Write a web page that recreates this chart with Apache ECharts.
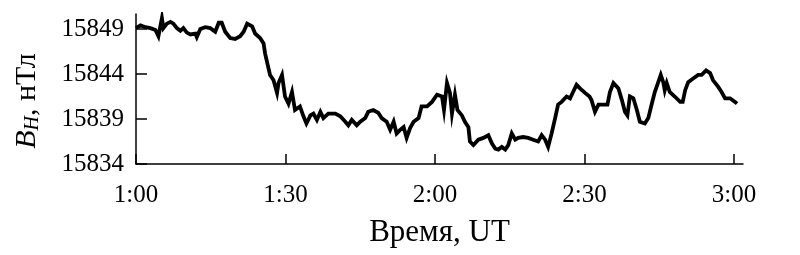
<!DOCTYPE html>
<html>
<head>
<meta charset="utf-8">
<script src="https://cdn.jsdelivr.net/npm/echarts@6/dist/echarts.min.js"></script>
<style>
html,body{margin:0;padding:0;background:#fff;}
#chart{width:800px;height:255px;}
</style>
</head>
<body>
<div id="chart"></div>
<script>
// Time in minutes after 1:00 UT
const times = [
0, 0.9, 1.9, 2.9, 3.9, 4.5, 5.2, 5.5, 6.2, 6.9, 7.5, 8.2, 8.9, 9.5, 10.2, 10.9, 11.9, 12.2, 12.9, 13.9,
14.9, 15.9, 16.6, 17.2, 17.9, 18.9, 19.9, 20.9, 21.6, 22.3, 23.3, 23.9, 24.9, 25.6, 25.9, 26.6, 26.9, 27.6, 28.3, 28.6,
29.3, 29.9, 30.6, 31.3, 31.9, 32.9, 33.6, 34.2, 35.0, 35.6, 36.3, 37.0, 37.6, 38.6, 40.0, 41.0, 42.0, 42.6, 43.3, 44.3,
45.0, 46.0, 46.6, 47.6, 48.6, 49.3, 50.3, 51.0, 51.7, 52.3, 53.0, 53.7, 54.3, 55.0, 55.7, 56.7, 57.3, 58.4, 59.4, 60.4,
60.7, 61.4, 61.8, 62.4, 63.0, 63.4, 64.0, 64.5, 65.4, 66.0, 66.7, 67.0, 67.7, 68.7, 69.7, 70.7, 71.4, 72.1, 72.7, 73.4,
74.1, 74.7, 75.4, 76.1, 76.7, 77.7, 78.7, 79.7, 80.7, 81.4, 82.1, 82.7, 83.4, 84.1, 84.7, 85.4, 86.4, 87.1, 87.7, 88.4,
89.1, 90.1, 91.0, 91.4, 92.1, 92.8, 93.8, 94.6, 95.1, 95.8, 96.8, 97.5, 98.1, 98.6, 99.1, 99.8, 100.5, 101.1, 102.1, 102.8,
103.5, 104.1, 104.8, 105.3, 105.8, 106.1, 106.5, 107.1, 108.1, 109.2, 109.7, 110.2, 110.8, 111.8, 112.8, 113.5, 114.4, 115.2, 115.8, 116.8,
117.5, 118.2, 119.2, 120.2, 120.6
];
// B_H values, nT
const bH = [
15849.1, 15849.4, 15849.2, 15849.1, 15848.9, 15848.2, 15850.2, 15849.1, 15849.6, 15849.8, 15849.6, 15849.1, 15848.8, 15849.1, 15848.6, 15848.4, 15848.5, 15848.1, 15849.0, 15849.2,
15849.1, 15848.7, 15849.7, 15849.7, 15848.7, 15848.0, 15847.9, 15848.2, 15848.7, 15849.6, 15849.3, 15848.5, 15848.0, 15847.4, 15846.3, 15844.6, 15843.9, 15843.3, 15841.9, 15843.0,
15843.9, 15841.5, 15840.7, 15842.0, 15840.0, 15840.4, 15839.3, 15838.5, 15839.4, 15839.6, 15838.9, 15839.8, 15839.1, 15839.6, 15839.6, 15839.3, 15838.7, 15838.3, 15838.9, 15838.3,
15838.7, 15839.1, 15839.8, 15840.0, 15839.7, 15839.1, 15838.7, 15837.8, 15838.7, 15837.4, 15837.8, 15838.1, 15836.9, 15838.0, 15838.7, 15839.1, 15840.4, 15840.4, 15840.9, 15841.7,
15841.9, 15841.5, 15840.0, 15843.0, 15841.9, 15839.6, 15841.7, 15840.0, 15839.4, 15838.7, 15838.1, 15836.5, 15836.1, 15836.7, 15836.9, 15837.2, 15836.3, 15835.7, 15835.6, 15835.9,
15835.6, 15836.1, 15837.4, 15836.7, 15836.9, 15837.0, 15836.9, 15836.7, 15836.5, 15837.2, 15836.7, 15835.9, 15837.4, 15839.1, 15840.6, 15840.9, 15841.5, 15841.3, 15842.0, 15842.8,
15842.4, 15841.9, 15841.5, 15841.1, 15839.8, 15840.6, 15840.6, 15840.6, 15842.0, 15843.0, 15842.4, 15841.1, 15839.8, 15839.4, 15841.5, 15841.3, 15840.0, 15838.7, 15838.5, 15839.1,
15840.7, 15842.0, 15843.1, 15843.9, 15843.1, 15842.2, 15843.0, 15842.0, 15841.5, 15840.9, 15840.9, 15842.2, 15843.1, 15843.5, 15843.9, 15843.9, 15844.4, 15844.1, 15843.3, 15842.6,
15842.0, 15841.3, 15841.3, 15840.9, 15840.7
];
const xTicks = [0, 30, 60, 90, 120];
const xTickLabels = ['1:00', '1:30', '2:00', '2:30', '3:00'];
const yTicks = [15834, 15839, 15844, 15849];
const xTitle = 'Время, UT';

const FONT = 'Liberation Serif';
const data = times.map((t, i) => [t, bH[i]]);
const chart = echarts.init(document.getElementById('chart'), null, {renderer: 'canvas'});
chart.setOption({
  animation: false,
  backgroundColor: '#fff',
  grid: {left: 136, right: 57, top: 14, bottom: 91},
  xAxis: {
    type: 'value', min: 0, max: 121.8,
    axisLine: {show: true, onZero: false, lineStyle: {color: '#000', width: 1.5}},
    axisTick: {show: true, inside: true, length: 10, customValues: xTicks, lineStyle: {color: '#000', width: 1.5}},
    axisLabel: {customValues: xTicks, formatter: v => xTickLabels[xTicks.indexOf(v)],
      color: '#000', fontFamily: FONT, fontSize: 25, margin: 19},
    splitLine: {show: false},
    name: xTitle, nameLocation: 'middle', nameGap: 53,
    nameTextStyle: {color: '#000', fontFamily: FONT, fontSize: 31}
  },
  yAxis: {
    type: 'value', min: 15834, max: 15850.67,
    axisLine: {show: true, lineStyle: {color: '#000', width: 1.5}},
    axisTick: {show: true, inside: true, length: 11, customValues: yTicks, lineStyle: {color: '#000', width: 1.5}},
    axisLabel: {customValues: yTicks, formatter: v => String(v), color: '#000', fontFamily: FONT, fontSize: 25, margin: 12},
    splitLine: {show: false}
  },
  graphic: [{
    type: 'text', x: 27, y: 101, rotation: Math.PI / 2,
    style: {
      text: '{b|B}{s|H}{n|, нТл}',
      align: 'center', verticalAlign: 'middle',
      rich: {
        b: {fontFamily: FONT, fontStyle: 'italic', fontSize: 30, fill: '#000'},
        s: {fontFamily: FONT, fontStyle: 'italic', fontSize: 20, fill: '#000', padding: [11, 0, 0, 0]},
        n: {fontFamily: FONT, fontSize: 30, fill: '#000'}
      }
    }
  }],
  series: [{
    type: 'line', data: data, symbol: 'none',
    lineStyle: {color: '#000', width: 3.8, join: 'miter'}
  }]
});
</script>
</body>
</html>
